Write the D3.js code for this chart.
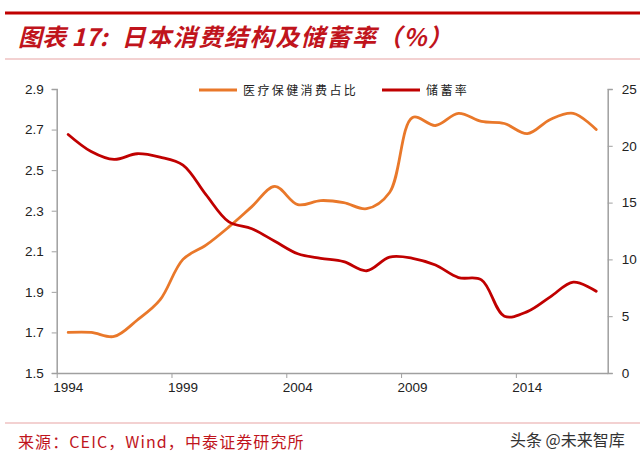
<!DOCTYPE html>
<html>
<head>
<meta charset="utf-8">
<script src="https://cdn.jsdelivr.net/npm/d3@7"></script>
<style>
  html, body { margin: 0; padding: 0; background: #fff; }
  svg { display: block; }
</style>
</head>
<body>
<svg id="chart" width="640" height="460"></svg>
<script>
// ---- data ----
const years = [1994,1995,1996,1997,1998,1999,2000,2001,2002,2003,2004,2005,
               2006,2007,2008,2009,2010,2011,2012,2013,2014,2015,2016,2017];
const healthShare = [1.70,1.70,1.68,1.76,1.86,2.06,2.13,2.22,2.32,2.42,2.33,2.35,
                     2.34,2.31,2.39,2.76,2.72,2.78,2.74,2.73,2.68,2.75,2.78,2.70];
const savingRate = [21.0,19.5,18.8,19.3,19.0,18.3,15.7,13.3,12.7,11.6,10.5,10.1,
                    9.8,9.0,10.2,10.1,9.5,8.4,8.2,5.0,5.4,6.7,8.0,7.2];
const leftTicks = [1.5,1.7,1.9,2.1,2.3,2.5,2.7,2.9];
const rightTicks = [0,5,10,15,20,25];
const labelYears = [1994,1999,2004,2009,2014];
const seriesNames = ["医疗保健消费占比", "储蓄率"];
const titleLead = "图表 17:";
const titleMain = "日本消费结构及储蓄率（%）";
const sourceText = "来源：CEIC，Wind，中泰证券研究所";
const watermark = "头条 @未来智库";

// ---- layout ----
const svg = d3.select("#chart");
const X0 = 56.7, X1 = 607.7, Y0 = 89, Y1 = 373;
const orange = "#E9782A", red = "#C00000", axisGray = "#A0A0A0";
const numFont = "'Liberation Sans', Arial, sans-serif";
const cjkFont = "'Noto Sans CJK SC', sans-serif";

const x = d3.scaleBand().domain(years).range([X0, X1]).padding(0);
const xBound = d3.scaleLinear().domain([0, years.length]).range([X0, X1]);
const yL = d3.scaleLinear().domain([1.5, 2.9]).range([Y1, Y0]);
const yR = d3.scaleLinear().domain([0, 25]).range([Y1, Y0]);
const cx = d => x(d) + x.bandwidth() / 2;

// header decoration
svg.append("line").attr("x1", 5).attr("x2", 640).attr("y1", 13).attr("y2", 13)
  .attr("stroke", "#C00000").attr("stroke-width", 3);
svg.append("line").attr("x1", 5).attr("x2", 640).attr("y1", 59).attr("y2", 59)
  .attr("stroke", "#E8A3A3").attr("stroke-width", 1.2);
const title = svg.append("text").attr("x", 18).attr("y", 46)
  .attr("fill", "#C0141C").attr("font-style", "italic").attr("font-weight", "bold")
  .attr("font-size", 24).attr("font-family", cjkFont);
title.append("tspan").text(titleLead);
title.append("tspan").attr("dx", 14).attr("letter-spacing", 1.6).text(titleMain);

// footer
svg.append("line").attr("x1", 5).attr("x2", 640).attr("y1", 423).attr("y2", 423)
  .attr("stroke", "#E8A3A3").attr("stroke-width", 1.2);
svg.append("text").attr("x", 18).attr("y", 448).attr("fill", "#C0141C")
  .attr("font-size", 16).attr("letter-spacing", 1.1).attr("font-family", cjkFont).text(sourceText);
svg.append("text").attr("x", 510).attr("y", 446).attr("fill", "#333")
  .attr("font-size", 16).attr("font-family", cjkFont).text(watermark);

// axes
const gL = svg.append("g").attr("transform", `translate(${X0},0)`)
  .call(d3.axisLeft(yL).tickValues(leftTicks).tickFormat(d3.format(".1f")).tickSizeOuter(0).tickSize(5).tickPadding(8));
const gR = svg.append("g").attr("transform", `translate(${X1},0)`)
  .call(d3.axisRight(yR).tickValues(rightTicks).tickSizeOuter(0).tickSize(5).tickPadding(9));
const gB = svg.append("g").attr("transform", `translate(0,${Y1})`)
  .call(d3.axisBottom(xBound).tickValues([0,5,10,15,20]).tickFormat("").tickSize(5).tickSizeOuter(0));
const gBL = svg.append("g").attr("transform", `translate(0,${Y1})`)
  .call(d3.axisBottom(x).tickValues(labelYears).tickSize(0).tickPadding(9));
gBL.select(".domain").remove();

[gL, gR, gB, gBL].forEach(g => {
  g.selectAll(".domain").attr("stroke", axisGray).attr("stroke-width", 1.5);
  g.selectAll(".tick line").attr("stroke", axisGray).attr("stroke-width", 1);
  g.selectAll("text").attr("font-family", numFont).attr("font-size", 13.5).attr("fill", "#222");
});

// lines
const lineL = d3.line().x((d, i) => cx(years[i])).y(d => yL(d)).curve(d3.curveCatmullRom.alpha(0.5));
const lineR = d3.line().x((d, i) => cx(years[i])).y(d => yR(d)).curve(d3.curveCatmullRom.alpha(0.5));
svg.append("path").datum(healthShare).attr("d", lineL)
  .attr("fill", "none").attr("stroke", orange).attr("stroke-width", 2.8).attr("stroke-linecap", "round");
svg.append("path").datum(savingRate).attr("d", lineR)
  .attr("fill", "none").attr("stroke", red).attr("stroke-width", 2.8).attr("stroke-linecap", "round");

// legend
const legend = [{name: seriesNames[0], color: orange, x: 199}, {name: seriesNames[1], color: red, x: 382}];
legend.forEach(l => {
  svg.append("line").attr("x1", l.x).attr("x2", l.x + 38).attr("y1", 90).attr("y2", 90)
    .attr("stroke", l.color).attr("stroke-width", 3);
  svg.append("text").attr("x", l.x + 44).attr("y", 94.5).attr("fill", "#222")
    .attr("font-size", 12).attr("letter-spacing", 2.4).attr("font-family", cjkFont).text(l.name);
});
</script>
</body>
</html>
